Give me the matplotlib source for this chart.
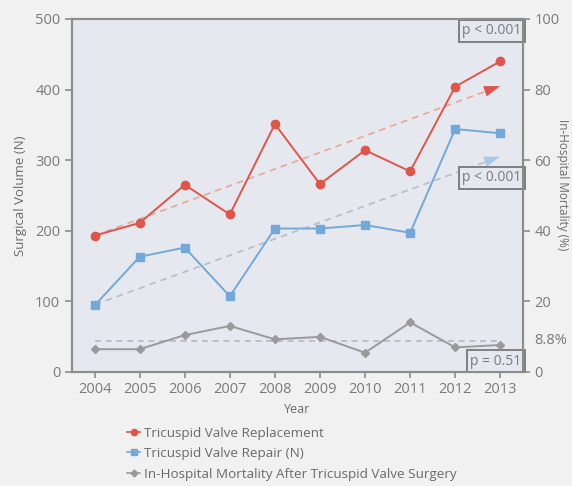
import matplotlib
matplotlib.use("Agg")
import matplotlib.pyplot as plt
from matplotlib.lines import Line2D

years = [2004, 2005, 2006, 2007, 2008, 2009, 2010, 2011, 2012, 2013]
replacement = [193, 211, 265, 223, 351, 266, 314, 284, 404, 440]
repair = [94, 163, 176, 107, 203, 203, 208, 197, 344, 338]
mortality = [6.4, 6.4, 10.4, 13.0, 9.2, 9.9, 5.4, 14.0, 6.9, 7.6]
repl_trend = [193, 405]
repair_trend = [95, 305]
mort_mean = 8.8
left_ticks = [0, 100, 200, 300, 400, 500]
right_ticks = [0, 20, 40, 60, 80, 100]

plt.rcParams['font.family'] = ['Open Sans', 'DejaVu Sans']

RED = '#e0554a'
BLUE = '#72a9d8'
GRAY = '#9a9a9a'
AX = '#8c8c8c'
TXT = '#7a7a7a'

fig = plt.figure(figsize=(5.72, 4.86), dpi=100, facecolor='#f1f1f1')
ax = fig.add_axes([0.126, 0.235, 0.788, 0.726])
ax.set_facecolor('#e5e8ef')
ax2 = ax.twinx()

ax.set_xlim(2003.5, 2013.5)
ax.set_ylim(0, 500)
ax2.set_ylim(0, 100)

arrow = dict(arrowstyle='-|>,head_length=0.9,head_width=0.3', lw=0,
             mutation_scale=13, shrinkA=0, shrinkB=0)
# trend lines
ax.plot([years[0], years[-1] - 0.3], [repl_trend[0], repl_trend[1] - 7],
        ls=(0, (4, 3)), color='#eba595', lw=1.2, zorder=2)
ax.annotate('', xy=(years[-1], repl_trend[1]), xytext=(years[-1] - 0.5, repl_trend[1] - 11),
            arrowprops=dict(color=RED, **arrow), zorder=3)
ax.plot([years[0], years[-1] - 0.3], [repair_trend[0], repair_trend[1] - 7],
        ls=(0, (4, 3)), color='#b9bcc4', lw=1.2, zorder=2)
ax.annotate('', xy=(years[-1], repair_trend[1]), xytext=(years[-1] - 0.5, repair_trend[1] - 11),
            arrowprops=dict(color='#a9c9e8', **arrow), zorder=3)

l1, = ax.plot(years, replacement, color=RED, marker='o', ms=6, lw=1.4, zorder=4)
l2, = ax.plot(years, repair, color=BLUE, marker='s', ms=6, lw=1.4, zorder=4)

ax2.plot([years[0], years[-1]], [mort_mean, mort_mean], ls=(0, (4, 3)), color='#b5b5b5', lw=1.1)
l3, = ax2.plot(years, mortality, color=GRAY, marker='D', ms=4.5, lw=1.4, zorder=4)

ax.set_xticks(years)
ax.set_yticks(left_ticks)
ax2.set_yticks(right_ticks)
for a in (ax, ax2):
    for s in a.spines.values():
        s.set_color(AX)
        s.set_linewidth(1.5)
    a.tick_params(colors=AX, labelcolor=TXT, labelsize=10.5, length=5, width=1.2)
ax.tick_params(axis='x', length=4)

ax.set_xlabel('Year', color='#6a6a6a', fontsize=9, labelpad=4)
ax.set_ylabel('Surgical Volume (N)', color='#6a6a6a', fontsize=9.5, labelpad=6)
fig.text(0.984, 0.62, 'In-Hospital Mortality (%)', color='#6a6a6a', fontsize=8.5,
         rotation=270, ha='center', va='center')

ax2.text(1.025, mort_mean / 100, '8.8%', transform=ax2.transAxes, color=TXT,
         fontsize=10.5, va='center', ha='left')

box = dict(boxstyle='square,pad=0.25', fc='#e5e8ef', ec='#777777', lw=1.3)
ax.text(0.997, 0.967, 'p < 0.001', transform=ax.transAxes, ha='right', va='center',
        fontsize=10, color=TXT, bbox=box)
ax.text(0.997, 0.55, 'p < 0.001', transform=ax.transAxes, ha='right', va='center',
        fontsize=10, color=TXT, bbox=box)
ax.text(0.997, 0.03, 'p = 0.51', transform=ax.transAxes, ha='right', va='center',
        fontsize=10, color=TXT, bbox=box)

handles = [Line2D([], [], color=RED, marker='o', ms=4.5, lw=1.2),
           Line2D([], [], color=BLUE, marker='s', ms=4.5, lw=1.2),
           Line2D([], [], color=GRAY, marker='D', ms=3.5, lw=1.2)]
labels = ['Tricuspid Valve Replacement', 'Tricuspid Valve Repair (N)',
          'In-Hospital Mortality After Tricuspid Valve Surgery']
fig.legend(handles, labels, loc='upper left', bbox_to_anchor=(0.222, 0.122),
           frameon=False, fontsize=9.7, labelcolor='#6a6a6a', handlelength=1.0,
           handletextpad=0.3, labelspacing=0.55, borderaxespad=0, borderpad=0)

fig.savefig('out.png', dpi=100, facecolor=fig.get_facecolor())
